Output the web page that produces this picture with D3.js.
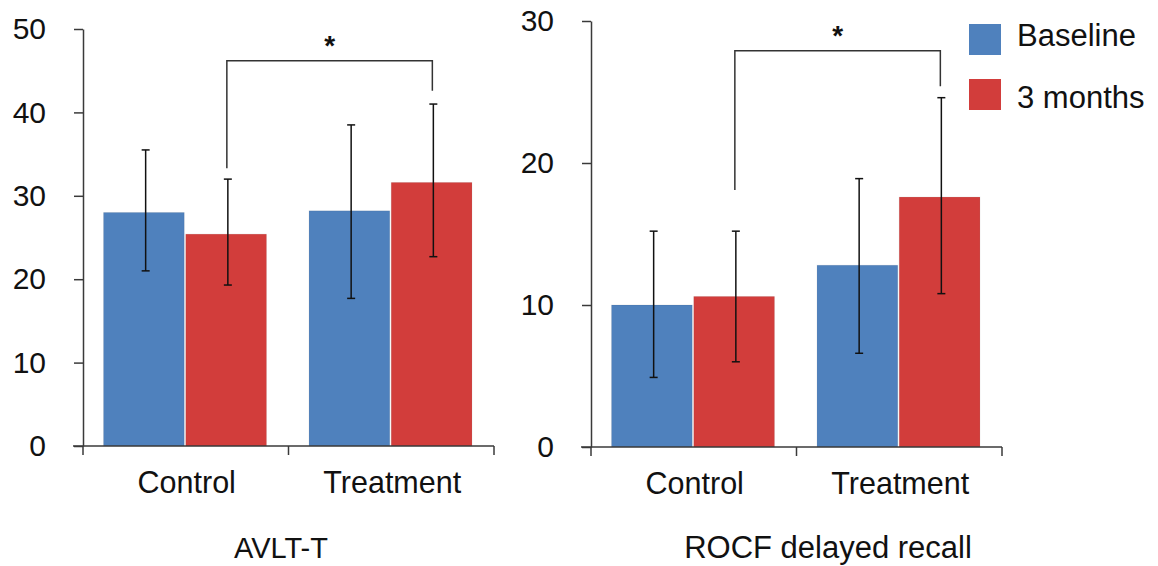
<!DOCTYPE html>
<html lang="en">
<head>
    <meta charset="UTF-8">
    <title>AVLT-T and ROCF</title>
    <script src="https://cdn.jsdelivr.net/npm/d3@7"></script>
    <style>
        body { margin: 0; background: #fff; }
        text { font-family: "Liberation Sans", Arial, sans-serif; fill: #111; }
    </style>
</head>
<body>
    <script>
        // data
        var categories = ["Control", "Treatment"];
        var series = ["Baseline", "3 months"];
        var colors = ["#4f81bd", "#d23d3b"];

        // AVLT-T
        var avltBaseline = [28.0, 28.2];
        var avltMonths = [25.4, 31.6];
        var avltBaselineLo = [21.0, 17.7];
        var avltBaselineHi = [35.5, 38.5];
        var avltMonthsLo = [19.3, 22.7];
        var avltMonthsHi = [32.0, 41.0];
        var avltTicks = [0, 10, 20, 30, 40, 50];
        var avltBracket = [33.3, 46.2, 42.6];   // left arm end, top, right arm end

        // ROCF delayed recall
        var rocfBaseline = [10.0, 12.8];
        var rocfMonths = [10.6, 17.6];
        var rocfBaselineLo = [4.9, 6.6];
        var rocfBaselineHi = [15.2, 18.9];
        var rocfMonthsLo = [6.0, 10.8];
        var rocfMonthsHi = [15.2, 24.6];
        var rocfTicks = [0, 10, 20, 30];
        var rocfBracket = [18.1, 27.9, 25.4];

        var svg = d3.select("body")
            .append("svg")
            .attr("width", 1158)
            .attr("height", 566);

        var axisColor = "#3a3a3a";

        function drawPanel(opt) {
            var x0 = d3.scaleBand().domain(categories).range(opt.xr);
            var x1 = d3.scaleBand().domain(series).range([0, x0.bandwidth()]).paddingOuter(0.25);
            var y = d3.scaleLinear().domain([0, opt.max]).range(opt.yr);

            var rows = [];
            categories.forEach(function(c, i) {
                rows.push({cat: c, s: series[0], v: opt.base[i], lo: opt.baseLo[i], hi: opt.baseHi[i], col: colors[0]});
                rows.push({cat: c, s: series[1], v: opt.months[i], lo: opt.monthsLo[i], hi: opt.monthsHi[i], col: colors[1]});
            });

            var g = svg.append("g");

            // bars (with faint Excel-like edge)
            g.selectAll("rect.bar")
                .data(rows)
                .enter()
                .append("rect")
                .attr("class", "bar")
                .attr("x", function(d) { return x0(d.cat) + x1(d.s); })
                .attr("y", function(d) { return y(d.v); })
                .attr("width", x1.bandwidth() - 1.5)
                .attr("height", function(d) { return y(0) - y(d.v); })
                .style("fill", function(d) { return d.col; })
                .style("stroke", "rgba(0,0,0,0.07)")
                .style("stroke-width", 1);

            // error bars
            var cx = function(d) { return x0(d.cat) + x1(d.s) + x1.bandwidth() / 2 + 1; };
            var eb = g.selectAll("g.err").data(rows).enter().append("g").attr("class", "err")
                .style("stroke", "#111").style("stroke-width", 1.5);
            eb.append("line")
                .attr("x1", cx).attr("x2", cx)
                .attr("y1", function(d) { return y(d.lo); })
                .attr("y2", function(d) { return y(d.hi); });
            eb.append("line")
                .attr("x1", function(d) { return cx(d) - 4; }).attr("x2", function(d) { return cx(d) + 4; })
                .attr("y1", function(d) { return y(d.lo); }).attr("y2", function(d) { return y(d.lo); });
            eb.append("line")
                .attr("x1", function(d) { return cx(d) - 4; }).attr("x2", function(d) { return cx(d) + 4; })
                .attr("y1", function(d) { return y(d.hi); }).attr("y2", function(d) { return y(d.hi); });

            // y axis
            var ya = g.append("g")
                .attr("transform", "translate(" + opt.xr[0] + ",0)")
                .call(d3.axisLeft(y).tickValues(opt.ticks).tickSize(9).tickSizeOuter(0).tickPadding(28));
            ya.select(".domain").style("stroke", axisColor).style("stroke-width", 1.5);
            ya.selectAll(".tick line").style("stroke", axisColor).style("stroke-width", 1.5);
            ya.selectAll(".tick text")
                .style("font-family", '"Liberation Sans", Arial, sans-serif')
                .style("font-size", "30px")
                .style("fill", "#111");

            // x axis: line plus ticks at the band edges
            var edges = categories.map(function(c) { return x0(c); }).concat([opt.xr[1]]);
            g.append("line")
                .attr("x1", opt.xr[0] - 10).attr("x2", opt.xr[1])
                .attr("y1", y(0)).attr("y2", y(0))
                .style("stroke", axisColor).style("stroke-width", 1.5);
            g.selectAll("line.xt").data(edges).enter().append("line")
                .attr("class", "xt")
                .attr("x1", function(d) { return d; }).attr("x2", function(d) { return d; })
                .attr("y1", y(0)).attr("y2", y(0) + 9)
                .style("stroke", axisColor).style("stroke-width", 1.5);
            g.selectAll("text.cat").data(categories).enter().append("text")
                .attr("class", "cat")
                .attr("x", function(c) { return x0(c) + x0.bandwidth() / 2 + 1; })
                .attr("y", y(0) + 47)
                .attr("text-anchor", "middle")
                .style("font-size", "30.5px")
                .text(function(c) { return c; });

            // significance bracket between the 3-month bars
            var bx1 = x0(categories[0]) + x1(series[1]) + x1.bandwidth() / 2;
            var bx2 = x0(categories[1]) + x1(series[1]) + x1.bandwidth() / 2;
            g.append("path")
                .attr("d", "M" + bx1 + "," + y(opt.bracket[0]) +
                           "V" + y(opt.bracket[1]) +
                           "H" + bx2 +
                           "V" + y(opt.bracket[2]))
                .style("fill", "none")
                .style("stroke", "#333")
                .style("stroke-width", 1.5);
            g.append("text")
                .attr("x", (bx1 + bx2) / 2)
                .attr("y", y(opt.bracket[1]) - 6)
                .attr("text-anchor", "middle")
                .style("font-size", "28px")
                .style("font-weight", "bold")
                .text("*");

            // panel title
            g.append("text")
                .attr("x", opt.titleX)
                .attr("y", 558)
                .attr("text-anchor", "middle")
                .style("font-size", opt.titleSize)
                .text(opt.title);
        }

        drawPanel({
            xr: [83, 494], yr: [446, 29], max: 50, ticks: avltTicks,
            base: avltBaseline, months: avltMonths,
            baseLo: avltBaselineLo, baseHi: avltBaselineHi,
            monthsLo: avltMonthsLo, monthsHi: avltMonthsHi,
            bracket: avltBracket, title: "AVLT-T", titleX: 281, titleSize: "29px"
        });

        drawPanel({
            xr: [591, 1002], yr: [447, 21], max: 30, ticks: rocfTicks,
            base: rocfBaseline, months: rocfMonths,
            baseLo: rocfBaselineLo, baseHi: rocfBaselineHi,
            monthsLo: rocfMonthsLo, monthsHi: rocfMonthsHi,
            bracket: rocfBracket, title: "ROCF delayed recall", titleX: 828, titleSize: "31px"
        });

        // legend
        var legY = [24, 79];
        var legTextY = [46, 108];
        var leg = svg.append("g");
        series.forEach(function(s, i) {
            leg.append("rect")
                .attr("x", 969).attr("y", legY[i])
                .attr("width", 32).attr("height", 31)
                .style("fill", colors[i]);
            leg.append("text")
                .attr("x", 1017).attr("y", legTextY[i])
                .style("font-size", "31px")
                .text(s);
        });
    </script>
</body>
</html>
